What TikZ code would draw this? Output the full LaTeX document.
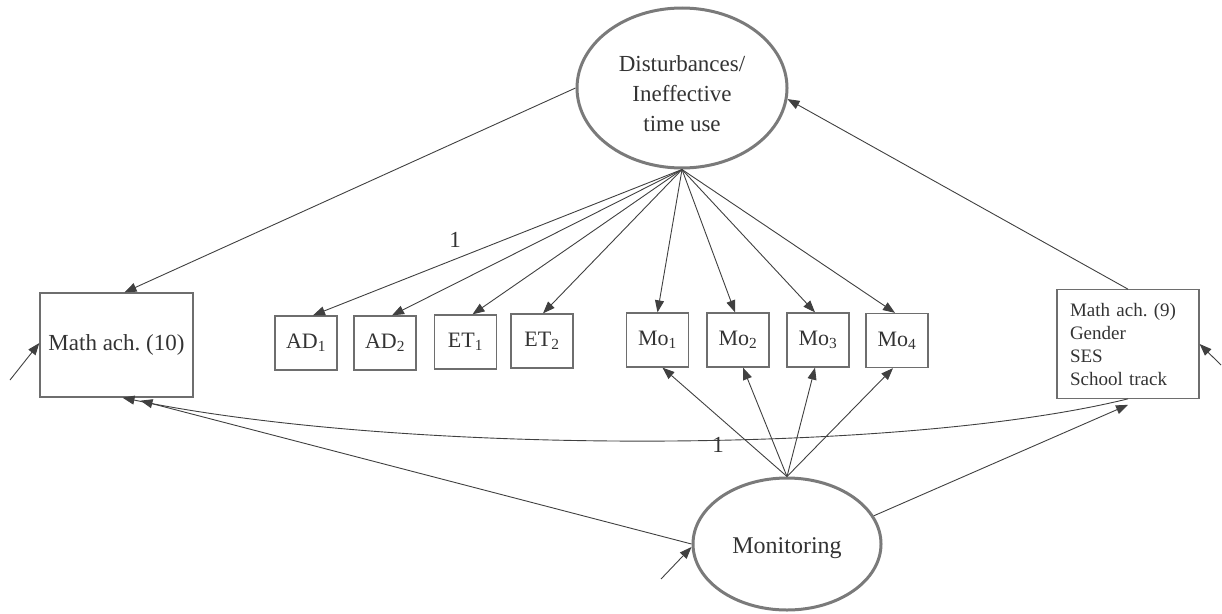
\documentclass[tikz,border=0pt]{standalone}
\usepackage{fontspec}
\setmainfont{Liberation Serif}
\usetikzlibrary{arrows.meta,shapes.geometric}
\definecolor{txt}{HTML}{333333}
\definecolor{ln}{HTML}{404040}
\definecolor{ell}{HTML}{7A7A7A}
\definecolor{bx}{HTML}{6E6E6E}
\frenchspacing
\tikzset{
  latent/.style={ellipse, draw=ell, line width=3pt, inner sep=0pt, text=txt, align=center},
  obsbox/.style={rectangle, draw=bx, line width=1.3pt, inner sep=0pt, text=txt, minimum width=62pt, minimum height=54pt, font=\fontsize{22}{26}\selectfont},
  bigbox/.style={rectangle, draw=bx, line width=1.3pt, text=txt},
  path/.style={draw=ln, line width=0.9pt, -{Triangle[length=12pt,width=9pt]}},
  lbl/.style={text=txt, font=\fontsize{23}{26}\selectfont, inner sep=0pt}
}
\begin{document}
\begin{tikzpicture}[x=1pt,y=-1pt]
\useasboundingbox (0,0) rectangle (1222,613);
% latent variables
\node[latent, minimum width=210pt, minimum height=160pt, font=\fontsize{23}{30}\selectfont] (dist) at (682,88) {\raisebox{0pt}[\dimexpr\height+14pt\relax][\depth]{\begin{tabular}{@{}c@{}}Disturbances/\\Ineffective\\time use\end{tabular}}};
\node[latent, minimum width=188pt, minimum height=132pt, font=\fontsize{24}{30}\selectfont] (mon) at (787,544) {\raisebox{0pt}[\dimexpr\height+8pt\relax][\depth]{Monitoring}};
% observed boxes
\node[bigbox, minimum width=153pt, minimum height=104pt, inner sep=0pt, font=\fontsize{23}{28}\selectfont] (m10) at (116.5,345) {Math ach. (10)};
\node[bigbox, minimum width=142pt, minimum height=102pt, inner sep=13pt, text width=116pt, align=left, font=\fontsize{19}{23}\selectfont] (m9) at (1128,344) {Math ach. (9)\\Gender\\SES\\School track};
\node[obsbox] (ad1) at (306,343) {AD\textsubscript{1}};
\node[obsbox] (ad2) at (385,343) {AD\textsubscript{2}};
\node[obsbox] (et1) at (465.5,342) {ET\textsubscript{1}};
\node[obsbox] (et2) at (542,341) {ET\textsubscript{2}};
\node[obsbox] (mo1) at (657.5,340) {Mo\textsubscript{1}};
\node[obsbox] (mo2) at (738,340) {Mo\textsubscript{2}};
\node[obsbox] (mo3) at (818,340) {Mo\textsubscript{3}};
\node[obsbox] (mo4) at (897,340.5) {Mo\textsubscript{4}};
% error term origins
\coordinate (e1) at (10,380);
\coordinate (e2) at (1221,365);
\coordinate (e3) at (661,579);
% loadings from Disturbances
\draw[path] (dist.south) -- ([xshift=7pt]ad1.north);
\draw[path] (dist.south) -- ([xshift=7pt]ad2.north);
\draw[path] (dist.south) -- ([xshift=7pt]et1.north);
\draw[path] (dist.south) -- ([xshift=1pt]et2.north);
\draw[path] (dist.south) -- (mo1.north);
\draw[path] (dist.south) -- ([xshift=-3pt]mo2.north);
\draw[path] (dist.south) -- ([xshift=-3pt]mo3.north);
\draw[path] (dist.south) -- ([xshift=-2pt]mo4.north);
% loadings from Monitoring
\draw[path] (mon.north) -- ([xshift=5pt]mo1.south);
\draw[path] (mon.north) -- ([xshift=5pt]mo2.south);
\draw[path] (mon.north) -- ([xshift=-3pt]mo3.south);
\draw[path] (mon.north) -- ([xshift=-4pt]mo4.south);
% structural paths
\draw[path] (dist.west) -- ([xshift=8pt]m10.north);
\draw[path] (m9.north) -- (dist.-6);
\draw[path] (mon.west) -- ([xshift=24pt,yshift=-3pt]m10.south);
\draw[path] (m9.south) .. controls (900,455) and (400,455) .. ([xshift=6pt]m10.south);
\draw[path] (mon.18) -- ([yshift=-6pt]m9.south);
% error terms
\draw[path] (e1) -- ([yshift=2pt]m10.west);
\draw[path] (e2) -- (m9.east);
\draw[path] (e3) -- ([yshift=-3pt]mon.west);
% labels
\node[lbl] (l1) at (455,240) {1};
\node[lbl] (l2) at (718,445) {1};
\end{tikzpicture}
\end{document}
